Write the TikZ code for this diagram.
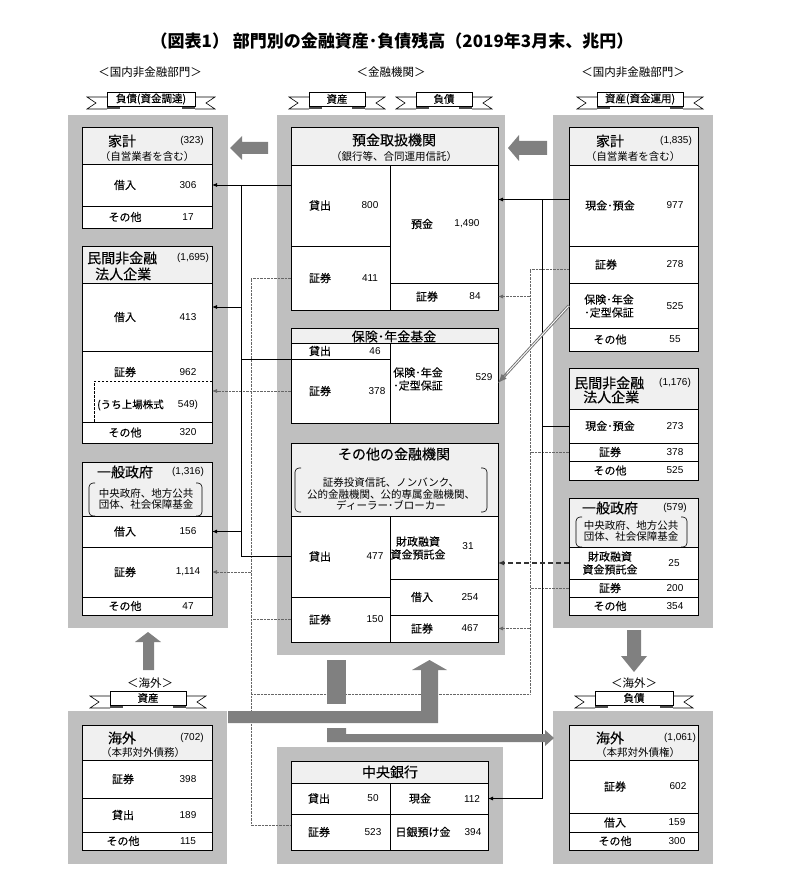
\documentclass[tikz,border=0pt]{standalone}
\usepackage{fontspec}
\setmainfont{Noto Sans CJK JP}
\newfontfamily\lblfont{Noto Sans CJK JP}[FakeBold=0.15]
\newfontfamily\numfont{Liberation Sans}
\usetikzlibrary{positioning,calc,arrows.meta}

\tikzset{
  panel/.style={fill=black!25, draw=none, inner sep=0pt, outer sep=0pt, anchor=north west},
  cell/.style={draw, fill=white, line width=0.8pt, inner sep=0pt, outer sep=0pt, anchor=north west},
  headcell/.style={cell, fill=black!6},
  ttl/.style={font=\lblfont\fontsize{14}{16}\selectfont, inner sep=0pt},
  lbl/.style={font=\lblfont\fontsize{11}{13}\selectfont, align=center, inner sep=0pt},
  num/.style={font=\numfont\fontsize{10}{12}\selectfont, inner sep=0pt},
  note/.style={font=\fontsize{10.5}{11.5}\selectfont, align=center, inner sep=0pt},
  hdr/.style={font=\fontsize{11.5}{13}\selectfont, inner sep=0pt},
  flow/.style={fill=black!50},
  link/.style={line width=0.8pt},
  conn/.style={line width=0.8pt, -{Latex[length=5pt,width=4pt]}},
  dotl/.style={line width=0.7pt, black!60, dash pattern=on 0.7pt off 0.7pt},
  dotarr/.style={dotl, -{Latex[length=5pt,width=4pt]}},
  dasharr/.style={line width=1.3pt, black!80, dash pattern=on 5pt off 3pt, -{Latex[length=6pt,width=5pt]}},
}

% name, x1, y1, x2, y2 (y counted downwards)
\newcommand{\cellbox}[6][cell]{\node[#1, minimum width={#5-#3}, minimum height={#6-#4}] (#2) at (#3,#4) {};}
\newcommand{\rowtext}[5]{\node[lbl] (#1-l) at (#2,0 |- #1) {#3};\node[num] (#1-v) at (#4,0 |- #1) {#5};}
\newcommand{\brackets}[4]{%
  \draw[line width=0.6pt, rounded corners=4pt] (#1+6,#2) -- (#1,#2) -- (#1,#4) -- (#1+6,#4);
  \draw[line width=0.6pt, rounded corners=4pt] (#3-6,#2) -- (#3,#2) -- (#3,#4) -- (#3-6,#4);}
\newcommand{\ribbon}[5]{%
  \draw[fill=white, line width=0.6pt] (#2-#4,#3-2) -- (#2-#4-20,#3-2) -- (#2-#4-11,#3+4) -- (#2-#4-20,#3+10) -- (#2-#4,#3+10);
  \draw[fill=white, line width=0.6pt] (#2+#4,#3-2) -- (#2+#4+20,#3-2) -- (#2+#4+11,#3+4) -- (#2+#4+20,#3+10) -- (#2+#4,#3+10);
  \fill[black!70] (#2-#4,#3+6) rectangle (#2-#4+13,#3+10);
  \fill[black!70] (#2+#4-13,#3+6) rectangle (#2+#4,#3+10);
  \node[draw, fill=white, line width=0.6pt, minimum width={2*#4}, minimum height=14, inner sep=0pt, font=\lblfont\fontsize{10.5}{12}\selectfont] (#1) at (#2,#3) {#5};}

\begin{document}
\begin{tikzpicture}[x=1pt,y=-1pt]
\useasboundingbox (0,0) rectangle (784,882);

\node[font=\fontsize{17}{19}\selectfont\bfseries] (title) at (392,41) {（図表1） 部門別の金融資産･負債残高（2019年3月末、兆円）};
\node[hdr] (hd-l) at (150,72) {＜国内非金融部門＞};
\node[hdr] (hd-c) at (391,72) {＜金融機関＞};
\node[hdr] (hd-r) at (633,72) {＜国内非金融部門＞};
\node[hdr] (hd-ol) at (150,683) {＜海外＞};
\node[hdr] (hd-or) at (634,683) {＜海外＞};

\node[panel, minimum width=160, minimum height=513] (pnl-l) at (68,115) {};
\node[panel, minimum width=228, minimum height=540] (pnl-c) at (277,115) {};
\node[panel, minimum width=160, minimum height=513] (pnl-r) at (553,115) {};
\node[panel, minimum width=159, minimum height=153] (pnl-ol) at (68,711) {};
\node[panel, minimum width=226, minimum height=117] (pnl-cb) at (277,747) {};
\node[panel, minimum width=160, minimum height=153] (pnl-or) at (553,711) {};

\ribbon{rb-ld}{151}{99}{44}{負債(資金調達)}
\ribbon{rb-ca}{337}{99}{28}{資産}
\ribbon{rb-cl}{444}{99}{28}{負債}
\ribbon{rb-ra}{640}{99}{43}{資産(資金運用)}
\ribbon{rb-oa}{148}{698}{38}{資産}
\ribbon{rb-ol}{634}{698}{39}{負債}

% left: liabilities of non-financial sectors
\cellbox[headcell]{hhd}{82}{127}{212}{164}
\cellbox{hhd-loan}{82}{164}{212}{206}
\cellbox{hhd-oth}{82}{206}{212}{228}
\node[ttl] (hhd-t) at (122,141) {家計};
\node[num] (hhd-n) at (192,141) {(323)};
\node[note] (hhd-s) at (147,157) {（自営業者を含む）};
\rowtext{hhd-loan}{125}{借入}{188}{306}
\rowtext{hhd-oth}{125}{その他}{188}{17}

\cellbox[headcell]{ncd}{82}{246}{212}{283}
\cellbox{ncd-loan}{82}{283}{212}{351}
\cellbox{ncd-sec}{82}{351}{212}{422}
\cellbox{ncd-oth}{82}{422}{212}{443}
\node[ttl, anchor=west] (ncd-t) at (87,258) {民間非金融};
\node[ttl, anchor=west] (ncd-t2) at (95,274) {法人企業};
\node[num] (ncd-n) at (193,258) {(1,695)};
\rowtext{ncd-loan}{125}{借入}{188}{413}
\node[lbl] (ncd-sec-l) at (125,372) {証券};
\node[num] (ncd-sec-v) at (188,372) {962};
\draw[line width=0.6pt, dash pattern=on 2.5pt off 1.5pt] (212,381) -- (94,381) -- (94,422);
\node[lbl, font=\lblfont\fontsize{10.5}{12}\selectfont, anchor=west] (lst-l) at (97,405) {(うち上場株式};
\node[num] (lst-v) at (188,405) {549)};
\rowtext{ncd-oth}{125}{その他}{188}{320}

\cellbox[headcell]{gvd}{82}{462}{212}{516}
\cellbox{gvd-loan}{82}{516}{212}{547}
\cellbox{gvd-sec}{82}{547}{212}{597}
\cellbox{gvd-oth}{82}{597}{212}{615}
\node[ttl] (gvd-t) at (125,472) {一般政府};
\node[num] (gvd-n) at (188,472) {(1,316)};
\brackets{89}{483}{202}{516}
\node[note] (gvd-s) at (146,499) {中央政府、地方公共\\団体、社会保障基金};
\rowtext{gvd-loan}{125}{借入}{188}{156}
\rowtext{gvd-sec}{125}{証券}{188}{1,114}
\rowtext{gvd-oth}{125}{その他}{188}{47}

% centre: financial institutions
\cellbox[headcell]{dt}{291}{127}{498}{165}
\cellbox{dt-loan}{291}{165}{390}{246}
\cellbox{dt-sec}{291}{246}{390}{310}
\cellbox{dt-dep}{390}{165}{498}{283}
\cellbox{dt-sec2}{390}{283}{498}{310}
\node[ttl] (dt-t) at (394,140) {預金取扱機関};
\node[note] (dt-s) at (394,157) {（銀行等、合同運用信託）};
\rowtext{dt-loan}{320}{貸出}{370}{800}
\rowtext{dt-sec}{320}{証券}{370}{411}
\rowtext{dt-dep}{422}{預金}{467}{1,490}
\rowtext{dt-sec2}{427}{証券}{475}{84}

\cellbox[headcell]{ins}{291}{328}{498}{343}
\cellbox{ins-loan}{291}{343}{390}{359}
\cellbox{ins-sec}{291}{359}{390}{423}
\cellbox{ins-res}{390}{343}{498}{423}
\node[ttl, font=\lblfont\fontsize{13}{15}\selectfont] (ins-t) at (394,336.5) {保険･年金基金};
\rowtext{ins-loan}{320}{貸出}{375}{46}
\rowtext{ins-sec}{320}{証券}{377}{378}
\node[lbl, align=left] (ins-res-l) at (418,379) {保険･年金\\･定型保証};
\node[num] (ins-res-v) at (484,377) {529};

\cellbox[headcell]{ofi}{291}{443}{498}{516}
\cellbox{ofi-loan}{291}{516}{390}{597}
\cellbox{ofi-sec}{291}{597}{390}{642}
\cellbox{ofi-fil}{390}{516}{498}{579}
\cellbox{ofi-brw}{390}{579}{498}{615}
\cellbox{ofi-sec2}{390}{615}{498}{642}
\node[ttl] (ofi-t) at (394,454) {その他の金融機関};
\brackets{295}{468}{487}{512}
\node[note] (ofi-s) at (391,494) {証券投資信託、ノンバンク、\\公的金融機関、公的専属金融機関、\\ディーラー･ブローカー};
\rowtext{ofi-loan}{320}{貸出}{375}{477}
\rowtext{ofi-sec}{320}{証券}{375}{150}
\node[lbl] (ofi-fil-l) at (418,548) {財政融資\\資金預託金};
\node[num] (ofi-fil-v) at (468,546) {31};
\rowtext{ofi-brw}{422}{借入}{470}{254}
\rowtext{ofi-sec2}{422}{証券}{470}{467}

\cellbox[headcell]{cb}{291}{761}{488}{783}
\cellbox{cb-loan}{291}{783}{390}{814}
\cellbox{cb-sec}{291}{814}{390}{850}
\cellbox{cb-cash}{390}{783}{488}{814}
\cellbox{cb-bojd}{390}{814}{488}{850}
\node[ttl] (cb-t) at (390,772) {中央銀行};
\rowtext{cb-loan}{319}{貸出}{373}{50}
\rowtext{cb-sec}{319}{証券}{373}{523}
\rowtext{cb-cash}{420}{現金}{472}{112}
\rowtext{cb-bojd}{423}{日銀預け金}{473}{394}

% right: assets of non-financial sectors
\cellbox[headcell]{hha}{569}{127}{698}{165}
\cellbox{hha-dep}{569}{165}{698}{246}
\cellbox{hha-sec}{569}{246}{698}{283}
\cellbox{hha-ins}{569}{283}{698}{328}
\cellbox{hha-oth}{569}{328}{698}{351}
\node[ttl] (hha-t) at (610,141) {家計};
\node[num] (hha-n) at (676,141) {(1,835)};
\node[note] (hha-s) at (633,157) {（自営業者を含む）};
\rowtext{hha-dep}{610}{現金･預金}{675}{977}
\rowtext{hha-sec}{606}{証券}{675}{278}
\node[lbl, align=left] (hha-ins-l) at (609,306) {保険･年金\\･定型保証};
\node[num] (hha-ins-v) at (675,306) {525};
\rowtext{hha-oth}{610}{その他}{675}{55}

\cellbox[headcell]{nca}{569}{368}{698}{409}
\cellbox{nca-dep}{569}{409}{698}{443}
\cellbox{nca-sec}{569}{443}{698}{461}
\cellbox{nca-oth}{569}{461}{698}{480}
\node[ttl, anchor=west] (nca-t) at (574,383) {民間非金融};
\node[ttl, anchor=west] (nca-t2) at (583,397) {法人企業};
\node[num] (nca-n) at (675,383) {(1,176)};
\rowtext{nca-dep}{610}{現金･預金}{675}{273}
\rowtext{nca-sec}{610}{証券}{675}{378}
\rowtext{nca-oth}{610}{その他}{675}{525}

\cellbox[headcell]{gva}{569}{498}{698}{547}
\cellbox{gva-fil}{569}{547}{698}{579}
\cellbox{gva-sec}{569}{579}{698}{597}
\cellbox{gva-oth}{569}{597}{698}{615}
\node[ttl] (gva-t) at (610,508) {一般政府};
\node[num] (gva-n) at (675,508) {(579)};
\brackets{576}{517}{687}{547}
\node[note] (gva-s) at (631,531) {中央政府、地方公共\\団体、社会保障基金};
\rowtext{gva-fil}{610}{財政融資\\資金預託金}{674}{25}
\rowtext{gva-sec}{610}{証券}{675}{200}
\rowtext{gva-oth}{610}{その他}{675}{354}

% overseas
\cellbox[headcell]{ova}{82}{725}{212}{760}
\cellbox{ova-sec}{82}{760}{212}{798}
\cellbox{ova-loan}{82}{798}{212}{832}
\cellbox{ova-oth}{82}{832}{212}{850}
\node[ttl] (ova-t) at (122,738) {海外};
\node[num] (ova-n) at (192,738) {(702)};
\node[note] (ova-s) at (143,753) {（本邦対外債務）};
\rowtext{ova-sec}{123}{証券}{188}{398}
\rowtext{ova-loan}{123}{貸出}{188}{189}
\rowtext{ova-oth}{123}{その他}{188}{115}

\cellbox[headcell]{ovl}{569}{725}{698}{760}
\cellbox{ovl-sec}{569}{760}{698}{813}
\cellbox{ovl-brw}{569}{813}{698}{832}
\cellbox{ovl-oth}{569}{832}{698}{850}
\node[ttl] (ovl-t) at (610,738) {海外};
\node[num] (ovl-n) at (680,738) {(1,061)};
\node[note] (ovl-s) at (638,753) {（本邦対外債権）};
\rowtext{ovl-sec}{615}{証券}{678}{602}
\rowtext{ovl-brw}{615}{借入}{677}{159}
\rowtext{ovl-oth}{615}{その他}{677}{300}

% connectors
\coordinate (lbus) at (241,0);
\coordinate (ldot) at (251,0);
\coordinate (rbus) at (542,0);
\coordinate (rdot) at (530,0);
\coordinate (dotlow) at (0,694);
\path ([yshift=10pt]ncd-loan.east) coordinate (ncd-in);
\path ([yshift=6pt]hha-dep.west) coordinate (hha-out);
\path ([yshift=7pt]cb-sec.west) coordinate (cb-in);
\path ([yshift=-4.5pt]hha-sec.west) coordinate (hha-sec-out);

\draw[dotl] (dt-sec.west) -- (ldot |- dt-sec) -- (ldot |- cb-in) -- (cb-in);
\draw[dotarr] (ins-sec.west) -- (ins-sec.west -| ncd-sec.east);
\draw[dotarr] (ldot |- gvd-sec) -- (gvd-sec.east);
\draw[dotl] (ofi-sec.west) -- (ldot |- ofi-sec);
\draw[dotl] (ldot |- dotlow) -- (rdot |- dotlow) -- (rdot |- hha-sec-out) -- (hha-sec-out);
\draw[dotarr] (rdot |- dt-sec2) -- (dt-sec2.east);
\draw[dotl] (nca-sec.west) -- (rdot |- nca-sec);
\draw[dotl] (gva-sec.west) -- (rdot |- gva-sec);
\draw[dotarr] (rdot |- ofi-sec2) -- (ofi-sec2.east);

\draw[conn] (dt-loan.west |- hhd-loan) -- (hhd-loan.east);
\draw[link] (lbus |- hhd-loan) -- (lbus |- ofi-loan) -- (ofi-loan.west);
\draw[conn] (ncd-in -| lbus) -- (ncd-in);
\draw[link] (lbus |- ins-loan.south west) -- (ins-loan.south west);
\draw[conn] (lbus |- gvd-loan) -- (gvd-loan.east);

\draw[conn] (hha-out) -- (hha-out -| dt-dep.east);
\draw[conn] (rbus |- hha-out) -- (rbus |- cb-cash) -- (cb-cash.east);
\draw[link] (nca-dep.west) -- (rbus |- nca-dep);

\draw[dasharr] (gva-fil.west) -- (gva-fil.west -| ofi-fil.east);
\draw[black!55, line width=2.8pt, shorten >=7pt] (hha-ins.west) -- (ins-res.east);
\draw[white, line width=0.9pt, shorten >=7pt, shorten <=0.6pt] (hha-ins.west) -- (ins-res.east);
\draw[black!55, line width=0.8pt, -{Latex[length=9pt,width=7pt]}] ($(hha-ins.west)!0.88!(ins-res.east)$) -- (ins-res.east);

% broad flows
\fill[flow] (268,142) -- (242,142) -- (242,136) -- (230,148) -- (242,160) -- (242,154) -- (268,154) -- cycle;
\fill[flow] (547,141) -- (519,141) -- (519,135) -- (508,148) -- (519,161) -- (519,155) -- (547,155) -- cycle;
\fill[flow] (143,670) -- (143,642) -- (135,642) -- (148,632) -- (161,642) -- (154,642) -- (154,670) -- cycle;
\fill[flow] (627,630) -- (641,630) -- (641,656) -- (647,656) -- (634,672) -- (621,656) -- (627,656) -- cycle;
\fill[flow] (327,660) rectangle (346,704);
\fill[flow] (228,711) -- (421,711) -- (421,670) -- (412,670) -- (429.5,660) -- (447,670) -- (438,670) -- (438,723) -- (228,723) -- cycle;
\fill[flow] (327,728) -- (346,728) -- (346,734) -- (545,734) -- (545,730) -- (554,738) -- (545,746) -- (545,742) -- (327,742) -- cycle;
\end{tikzpicture}
\end{document}
